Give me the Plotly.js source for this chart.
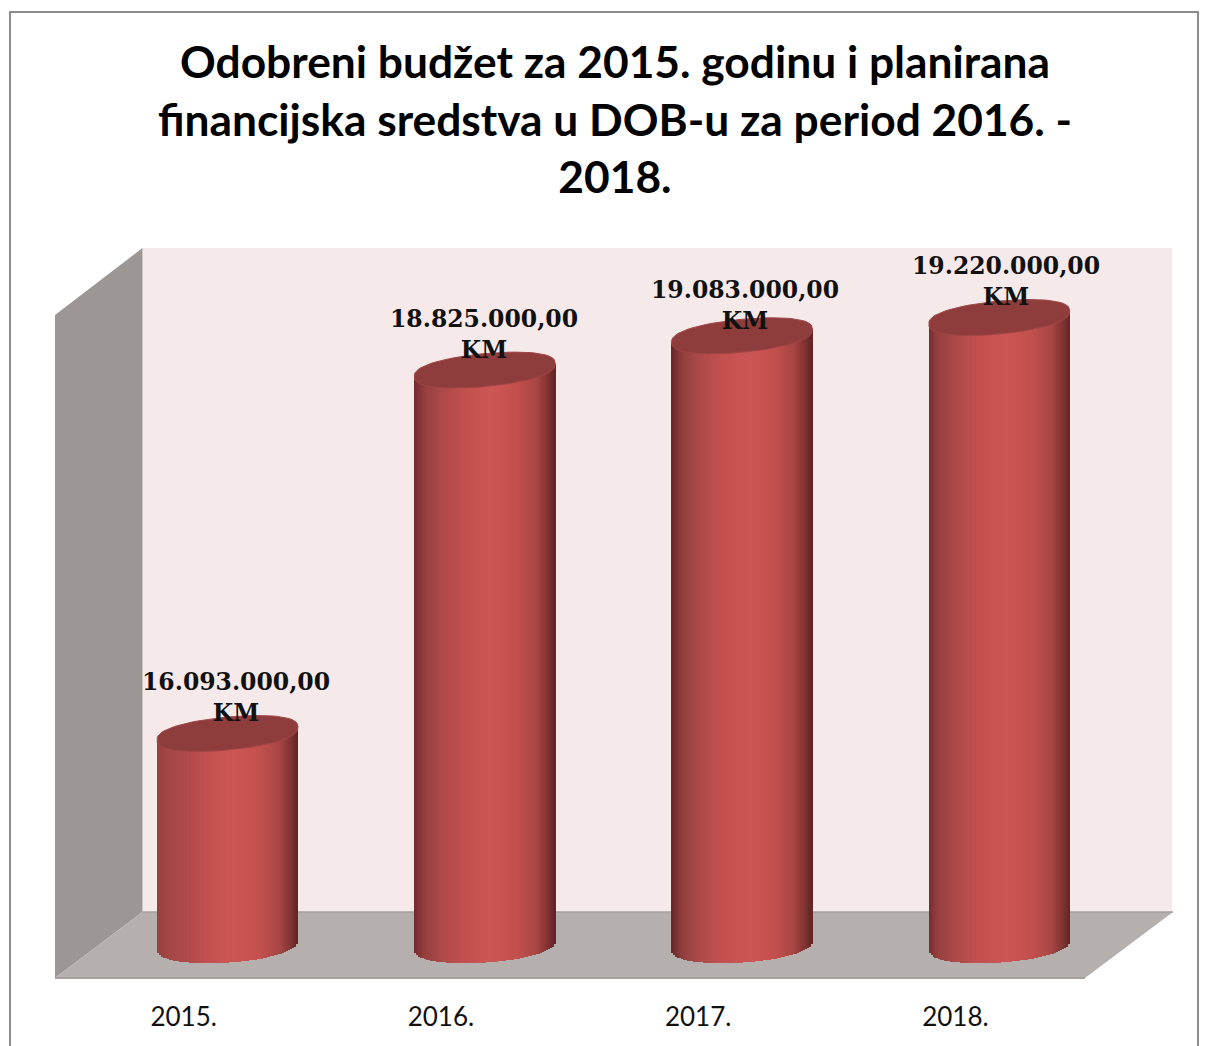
<!DOCTYPE html>
<html>
<head>
<meta charset="utf-8">
<script src="https://cdn.plot.ly/plotly-3.0.1.min.js"></script>
<style>html,body{margin:0;padding:0;background:#fff;overflow:hidden}#chart{width:1208px;height:1046px}</style>
</head>
<body>
<div id="chart"></div>
<script>
// Data
const years = ['2015.', '2016.', '2017.', '2018.'];
const budget = [16093000, 18825000, 19083000, 19220000];
const valueLabels = ['16.093.000,00<br>KM', '18.825.000,00<br>KM', '19.083.000,00<br>KM', '19.220.000,00<br>KM'];
const titleText = 'Odobreni budžet za 2015. godinu i planirana<br>financijska sredstva u DOB-u za period 2016. -<br>2018.';

// Style: label nudges (px), cylinder shading stops (position, r, g, b), left-edge lightening per cylinder
const labelShiftX = [8, -1, 3, 7];
const labelShiftY = [5, 4, -1, 5];
const shadeStops = [[0,96,38,40],[0.025,118,46,48],[0.08,146,62,62],[0.2,172,74,73],[0.35,194,80,79],[0.55,204,86,85],[0.72,196,80,78],[0.87,168,70,68],[0.95,128,50,50],[1,96,36,38]];
const leftLight = [0.7, 0.15, 0, 0.25];

// Plot frame in pixels
const L = 55, R = 1084, T = 248, B = 978, W = 1208, H = 1046;
const yRange = [14255000, 19743000];
const pxPerUnit = (B - T) / (yRange[1] - yRange[0]);
const xUnit = (R - L) / 4;
const depthShift = 43.9 / xUnit;     // cylinders sit in the depth of the floor
const halfW = 70.5 / xUnit;
const baseValue = yRange[0] + (B - 944) / pxPerUnit;
const topB = 16.5, topS = 6.5, botB = 18.5, botS = 4.5;
const STRIPS = 71;

function shadeRGB(t) {
  for (let i = 1; i < shadeStops.length; i++) {
    const a = shadeStops[i - 1], b = shadeStops[i];
    if (t <= b[0]) {
      const f = (t - a[0]) / (b[0] - a[0]);
      return [1, 2, 3].map(k => a[k] + (b[k] - a[k]) * f);
    }
  }
  return [96, 36, 38];
}
function shade(t, light) {
  let c = shadeRGB(t);
  if (t < 0.2) {
    const m = shadeRGB(0.2);
    c = c.map((v, k) => v + (m[k] - v) * light);
  }
  return 'rgb(' + c.map(Math.round).join(',') + ')';
}

const centers = budget.map((_, i) => i + depthShift);
const traces = [];
for (let s = 0; s < STRIPS; s++) {
  const t = -1 + 2 * (s + 0.5) / STRIPS;
  const w = 2 * halfW / STRIPS;
  const bases = budget.map(() => baseValue - (botB * Math.pow(1 - t * t, 0.4) - botS * t) / pxPerUnit);
  const tops = budget.map(v => v + topS * t / pxPerUnit);
  traces.push({
    type: 'bar',
    x: centers.map(c => c + t * halfW),
    y: tops.map((v, i) => v - bases[i]),
    base: bases,
    width: w * 1.25,
    marker: {color: leftLight.map(l => shade((t + 1) / 2, l)), line: {width: 0}},
    hoverinfo: 'skip',
    showlegend: false
  });
}
budget.forEach((v, i) => {
  const xs = [], ys = [];
  for (let d = 0; d <= 360; d += 5) {
    const r = d * Math.PI / 180;
    const sn = Math.sin(r);
    xs.push(centers[i] + halfW * Math.cos(r));
    ys.push(v + (topS * Math.cos(r) + topB * Math.sign(sn) * Math.pow(Math.abs(sn), 0.8)) / pxPerUnit);
  }
  traces.push({
    type: 'scatter', mode: 'lines', x: xs, y: ys, fill: 'toself',
    fillcolor: '#8f3d3c', line: {color: '#a04645', width: 1},
    hoverinfo: 'skip', showlegend: false
  });
});

const px = x => (x - L) / (R - L);
const py = y => (B - y) / (B - T);
function poly(pts, fill) {
  return {
    type: 'path', xref: 'paper', yref: 'paper', layer: 'below',
    path: 'M' + pts.map(p => px(p[0]) + ',' + py(p[1])).join('L') + 'Z',
    fillcolor: fill, line: {width: 0}
  };
}
function seg(x0, y0, x1, y1, color, width) {
  return {type: 'line', xref: 'paper', yref: 'paper', layer: 'below',
    x0: px(x0), y0: py(y0), x1: px(x1), y1: py(y1), line: {color: color, width: width}};
}
const shapes = [
  poly([[142.5, 248], [1172, 248], [1172, 912], [142.5, 912]], '#f6e9ea'),
  poly([[55, 315], [142.5, 248], [142.5, 912], [55, 978]], '#9c9794'),
  poly([[55, 978], [142.5, 912], [1173, 912], [1085, 978]], '#b5b0ae'),
  seg(142.5, 912, 1173, 912, '#a5a09e', 1.5),
  seg(55, 978, 1085, 978, '#a3a09f', 2),
  {type: 'path', xref: 'paper', yref: 'paper', layer: 'below',
   path: 'M' + px(10) + ',' + py(1060) + 'L' + px(10) + ',' + py(12) + 'L' + px(1198) + ',' + py(12) + 'L' + px(1198) + ',' + py(1060),
   line: {color: '#8c8c8c', width: 2}}
];

const annotations = budget.map((v, i) => ({
  x: centers[i], y: v, xref: 'x', yref: 'y',
  text: valueLabels[i], showarrow: false,
  xanchor: 'center', yanchor: 'bottom',
  xshift: labelShiftX[i], yshift: labelShiftY[i],
  align: 'center',
  font: {family: '"DejaVu Serif", serif', size: 23.5, color: '#111', weight: 700}
}));

Plotly.newPlot('chart', traces, {
  width: W, height: H,
  margin: {l: L, r: W - R, t: T, b: H - B, pad: 0},
  paper_bgcolor: '#ffffff', plot_bgcolor: 'rgba(0,0,0,0)',
  barmode: 'overlay', bargap: 0, showlegend: false, hovermode: false,
  title: {text: titleText, x: 615 / W, xanchor: 'center', y: 1 - 78 / H, yanchor: 'top',
          font: {family: 'Lato, sans-serif', size: 44.3, color: '#000', weight: 700}},
  xaxis: {range: [-0.5, 3.5], tickmode: 'array', tickvals: [0, 1, 2, 3], ticktext: years,
          showgrid: false, zeroline: false, showline: false, ticks: 'outside', ticklen: 16,
          tickcolor: 'rgba(0,0,0,0)', fixedrange: true,
          tickfont: {family: 'Lato, sans-serif', size: 26, color: '#111'}},
  yaxis: {range: yRange, visible: false, fixedrange: true},
  shapes: shapes, annotations: annotations
}, {displayModeBar: false, staticPlot: true});
</script>
</body>
</html>
